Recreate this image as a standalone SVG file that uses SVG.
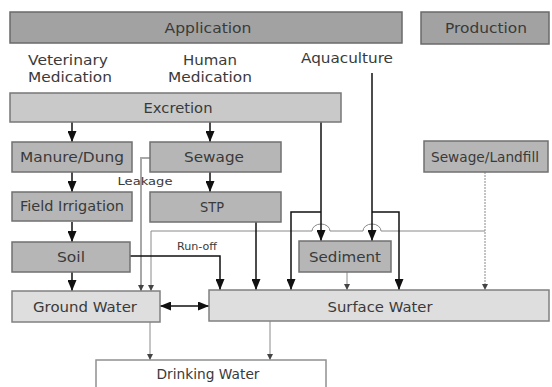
<svg xmlns="http://www.w3.org/2000/svg" width="552" height="387" viewBox="0 0 552 387">
<style>
text{font-family:"DejaVu Sans","Liberation Sans",sans-serif;fill:#3a3a3a;text-anchor:middle}
.t{font-size:14px}
.s{font-size:11px}
.dark{fill:#a2a2a2;stroke:#6a6a6a;stroke-width:1.5}
.mid{fill:#b6b6b6;stroke:#707070;stroke-width:1.5}
.exc{fill:#c9c9c9;stroke:#777;stroke-width:1.5}
.lite{fill:#dedede;stroke:#808080;stroke-width:1.5}
.white{fill:#fff;stroke:#909090;stroke-width:1.5}
.k{fill:none;stroke:#111;stroke-width:1.5}
.g{fill:none;stroke:#8a8a8a;stroke-width:1}
.gd{fill:none;stroke:#8a8a8a;stroke-width:1;stroke-dasharray:2 1}
.gl{fill:none;stroke:#a8a8a8;stroke-width:2}
</style>
<defs>
<marker id="big" viewBox="0 0 11 9" markerWidth="11" markerHeight="9" refX="11" refY="4.5" orient="auto-start-reverse" markerUnits="userSpaceOnUse">
<path d="M0,0 L11,4.5 L0,9 z" fill="#111"/>
</marker>
<marker id="sm" viewBox="0 0 6 6" markerWidth="6" markerHeight="6" refX="6" refY="3" orient="auto" markerUnits="userSpaceOnUse">
<path d="M0,0 L6,3 L0,6 z" fill="#444"/>
</marker>
</defs>
<rect width="552" height="387" fill="#fff"/>

<g id="connectors">
<path class="k" d="M72,122 V142" marker-end="url(#big)"/>
<path class="k" d="M210,122 V142" marker-end="url(#big)"/>
<path class="k" d="M72,172 V192" marker-end="url(#big)"/>
<path class="k" d="M72,222 V242" marker-end="url(#big)"/>
<path class="k" d="M72,272 V291" marker-end="url(#big)"/>
<path class="k" d="M210,172 V192" marker-end="url(#big)"/>
<path class="gl" d="M150,158 H141 V291"/>
<path class="g" d="M141,284 V291" marker-end="url(#sm)"/>
<path class="gd" d="M485,172 V290" marker-end="url(#sm)"/>
<path class="g" d="M485,231 H381 A9,7 0 0 0 363,231 H330 A9,7 0 0 0 312,231 H151 V291" marker-end="url(#sm)"/>
<path class="k" d="M321,122 V241" marker-end="url(#big)"/>
<path class="k" d="M321,212 H291 V290" marker-end="url(#big)"/>
<path class="k" d="M372,73 V241" marker-end="url(#big)"/>
<path class="k" d="M372,212 H399 V290" marker-end="url(#big)"/>
<path class="k" d="M130,256 H220 V290" marker-end="url(#big)"/>
<path class="k" d="M256,222 V290" marker-end="url(#big)"/>
<path class="g" d="M347,272 V290" marker-end="url(#sm)"/>
<path class="k" d="M160,306 H209" marker-start="url(#big)" marker-end="url(#big)"/>
<path class="g" d="M150,322 V360" marker-end="url(#sm)"/>
<path class="g" d="M270,321 V360" marker-end="url(#sm)"/>
<text class="s" x="145" y="185" textLength="55" lengthAdjust="spacingAndGlyphs">Leakage</text>
<text class="s" x="197" y="250" textLength="40" lengthAdjust="spacingAndGlyphs">Run-off</text>
</g>

<g id="application"><rect class="dark" x="10" y="12" width="392" height="31"/><text class="t" x="208" y="33" textLength="87" lengthAdjust="spacingAndGlyphs">Application</text></g>
<g id="production"><rect class="dark" x="421" y="12" width="128" height="32"/><text class="t" x="486" y="33" textLength="82" lengthAdjust="spacingAndGlyphs">Production</text></g>
<g id="veterinary"><text class="t" x="68" y="65" textLength="80" lengthAdjust="spacingAndGlyphs">Veterinary</text><text class="t" x="70" y="82" textLength="84" lengthAdjust="spacingAndGlyphs">Medication</text></g>
<g id="human"><text class="t" x="210" y="65" textLength="54" lengthAdjust="spacingAndGlyphs">Human</text><text class="t" x="210" y="82" textLength="84" lengthAdjust="spacingAndGlyphs">Medication</text></g>
<g id="aquaculture"><text class="t" x="347" y="63" textLength="92" lengthAdjust="spacingAndGlyphs">Aquaculture</text></g>
<g id="excretion"><rect class="exc" x="10" y="93" width="331" height="29"/><text class="t" x="178" y="113" textLength="69" lengthAdjust="spacingAndGlyphs">Excretion</text></g>
<g id="manure"><rect class="mid" x="12" y="142" width="120" height="30"/><text class="t" x="72" y="162" textLength="104" lengthAdjust="spacingAndGlyphs">Manure/Dung</text></g>
<g id="sewage"><rect class="mid" x="150" y="142" width="131" height="30"/><text class="t" x="214" y="162" textLength="60" lengthAdjust="spacingAndGlyphs">Sewage</text></g>
<g id="field"><rect class="mid" x="12" y="192" width="120" height="29"/><text class="t" x="72" y="211" textLength="104" lengthAdjust="spacingAndGlyphs">Field Irrigation</text></g>
<g id="stp"><rect class="mid" x="150" y="192" width="131" height="30"/><text class="t" x="212" y="212" textLength="24" lengthAdjust="spacingAndGlyphs">STP</text></g>
<g id="soil"><rect class="mid" x="12" y="242" width="118" height="30"/><text class="t" x="71" y="262" textLength="28" lengthAdjust="spacingAndGlyphs">Soil</text></g>
<g id="sediment"><rect class="mid" x="299" y="241" width="92" height="31"/><text class="t" x="345" y="262" textLength="72" lengthAdjust="spacingAndGlyphs">Sediment</text></g>
<g id="landfill"><rect class="mid" x="424" y="141" width="124" height="31"/><text class="t" x="485" y="162" textLength="108" lengthAdjust="spacingAndGlyphs">Sewage/Landfill</text></g>
<g id="groundwater"><rect class="lite" x="12" y="291" width="148" height="31"/><text class="t" x="85" y="312" textLength="104" lengthAdjust="spacingAndGlyphs">Ground Water</text></g>
<g id="surfacewater"><rect class="lite" x="209" y="290" width="340" height="31"/><text class="t" x="380" y="312" textLength="105" lengthAdjust="spacingAndGlyphs">Surface Water</text></g>
<g id="drinkingwater"><rect class="white" x="96" y="360" width="230" height="32"/><text class="t" x="208" y="379" textLength="103" lengthAdjust="spacingAndGlyphs">Drinking Water</text></g>
</svg>
